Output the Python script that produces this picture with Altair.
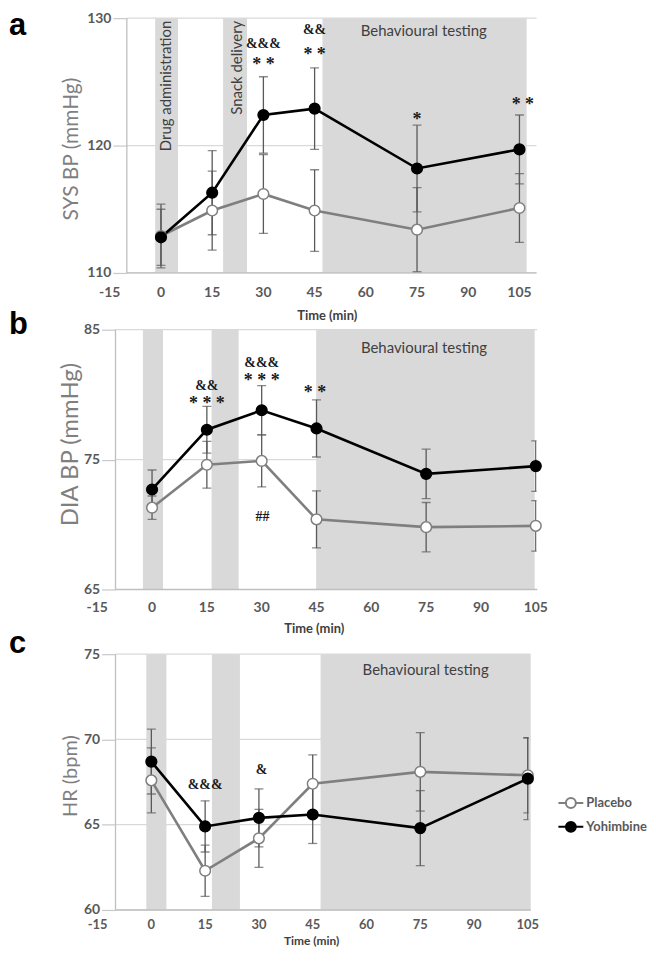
import altair as alt
import pandas as pd

# ---------------- data ----------------
TIME = [0, 15, 30, 45, 75, 105]
SERIES = ["Placebo", "Yohimbine"]

SYS_PLACEBO = [112.9, 114.9, 116.2, 114.9, 113.4, 115.1]
SYS_PLACEBO_ERR = [2.5, 3.1, 3.1, 3.2, 3.3, 2.7]
SYS_YOHIMBINE = [112.8, 116.3, 122.4, 122.9, 118.2, 119.7]
SYS_YOHIMBINE_ERR = [2.2, 3.3, 3.0, 3.2, 3.4, 2.7]

DIA_PLACEBO = [71.3, 74.6, 74.9, 70.4, 69.8, 69.9]
DIA_PLACEBO_ERR = [0.9, 1.8, 2.0, 2.2, 1.9, 1.95]
DIA_YOHIMBINE = [72.7, 77.3, 78.8, 77.4, 73.9, 74.5]
DIA_YOHIMBINE_ERR = [1.5, 1.8, 1.9, 2.2, 1.9, 1.95]

HR_PLACEBO = [67.6, 62.3, 64.2, 67.4, 68.1, 67.9]
HR_PLACEBO_ERR = [1.9, 1.5, 1.7, 1.7, 2.3, 2.2]
HR_YOHIMBINE = [68.7, 64.9, 65.4, 65.6, 64.8, 67.7]
HR_YOHIMBINE_ERR = [1.9, 1.5, 1.7, 1.7, 2.2, 2.4]

X_TICKS = [-15, 0, 15, 30, 45, 60, 75, 90, 105]
SYS_TICKS = [110, 120, 130]
DIA_TICKS = [65, 75, 85]
HR_TICKS = [60, 65, 70, 75]

# shaded study periods (minutes)
SYS_BAND_START = [-1.7, 18.2, 47.3]
SYS_BAND_END = [5.0, 25.2, 107.1]
DIA_BAND_START = [-2.5, 16.3, 44.9]
DIA_BAND_END = [3.0, 23.7, 104.7]
HR_BAND_START = [-1.4, 16.9, 47.2]
HR_BAND_END = [4.2, 24.7, 105.8]

# vertical period labels (panel a only)
VERT_TEXT = ["Drug administration", "Snack delivery"]
VERT_T = [1.6, 22.2]
VERT_V = [129.8, 129.8]

BEHAV_TEXT = "Behavioural testing"
SYS_BEHAV = (77.0, 129.0)
DIA_BEHAV = (74.4, 83.6)
HR_BEHAV = (76.5, 74.1)

# significance marks
SYS_SIG_T = [30, 30, 45, 45, 75, 106]
SYS_SIG_V = [128.0, 126.3, 129.1, 127.1, 122.0, 123.2]
SYS_SIG_TEXT = ["&&&", "* *", "&&", "* *", "*", "* *"]

DIA_SIG_T = [15, 15, 30, 30, 44.6, 30.2]
DIA_SIG_V = [80.67, 79.3, 82.43, 81.05, 80.13, 70.55]
DIA_SIG_TEXT = ["&&", "* * *", "&&&", "* * *", "* *", "##"]

HR_SIG_T = [15, 30.7]
HR_SIG_V = [67.35, 68.2]
HR_SIG_TEXT = ["&&&", "&"]

# ---------------- style ----------------
FONT = "Lato"
GRID = "#d9d9d9"
AXIS = "#bfbfbf"
BAND = "#d9d9d9"
LABEL = "#595959"
ERR = "#595959"
PLA = "#7f7f7f"
SYMBOL = "M-1,0L-0.4,0M0.4,0L1,0M-0.4,0A0.4,0.4,0,1,1,0.4,0A0.4,0.4,0,1,1,-0.4,0Z"

stroke_scale = alt.Scale(domain=SERIES, range=[PLA, "#000000"])
fill_scale = alt.Scale(domain=SERIES, range=["#ffffff", "#000000"])


def panel(cfg):
    xs = alt.Scale(domain=cfg["xdom"], nice=False, zero=False)
    ys = alt.Scale(domain=cfg["ydom"], nice=False, zero=False)
    ticks = cfg["ticks"]
    ymin, ymax = min(ticks), max(ticks)
    x0 = -10
    xend = cfg["xend"]

    yaxis = alt.Axis(values=ticks, domain=False, grid=False, tickSize=14,
                     tickColor="#c8c8c8", tickWidth=1.2, labelFont=FONT,
                     labelFontSize=14, labelFontWeight="bold", labelColor=LABEL,
                     labelPadding=2, offset=cfg["offset"], title=cfg["title"],
                     titleFont=FONT, titleFontSize=cfg["tfs"], titleFontWeight="normal",
                     titleColor=PLA, titleX=cfg["titleX"], titleY=cfg["titleY"],
                     titleAngle=270, titleAlign="center", titleBaseline="alphabetic")

    def X(f):
        return alt.X(f, type="quantitative", scale=xs, axis=None)

    def Y(f):
        return alt.Y(f, type="quantitative", scale=ys, axis=yaxis)

    if cfg.get("legend"):
        leg = alt.Legend(orient="none", legendX=cfg["legendX"], legendY=cfg["legendY"],
                         title=None, symbolType=SYMBOL, symbolSize=625,
                         symbolStrokeWidth=2, labelFont=FONT, labelFontSize=13,
                         labelFontWeight="bold", labelColor=LABEL, labelOffset=2,
                         rowPadding=1, padding=0)
    else:
        leg = None

    # series table
    rows = []
    for s, vals, errs in [("Placebo", cfg["pla"], cfg["pla_err"]),
                          ("Yohimbine", cfg["yoh"], cfg["yoh_err"])]:
        for t, v, e in zip(TIME, vals, errs):
            rows.append({"t": t, "series": s, "v": v, "lo": v - e, "hi": v + e})
    df = pd.DataFrame(rows)
    caps = pd.concat([df[["t", "lo"]].rename(columns={"lo": "c"}),
                      df[["t", "hi"]].rename(columns={"hi": "c"})])

    grid_df = pd.DataFrame({"t0": [x0] * len(ticks), "t1": [xend] * len(ticks), "v": ticks})
    frame_df = pd.DataFrame({"t0": [x0, x0], "t1": [x0, xend],
                             "v0": [ymin, ymin], "v1": [ymax, ymin]})
    band_df = pd.DataFrame({"t0": cfg["bs"], "t1": cfg["be"],
                            "v0": [ymin] * len(cfg["bs"]), "v1": [ymax] * len(cfg["bs"])})

    grid = alt.Chart(grid_df).mark_rule(color=GRID, strokeWidth=1.2).encode(
        x=X("t0"), x2="t1", y=Y("v"))
    bands = alt.Chart(band_df).mark_rect(color=BAND).encode(
        x=X("t0"), x2="t1", y=Y("v0"), y2="v1")
    frame = alt.Chart(frame_df).mark_rule(color=AXIS, strokeWidth=1.3).encode(
        x=X("t0"), x2="t1", y=Y("v0"), y2="v1")

    layers = [grid, bands, frame]

    if cfg.get("vert"):
        vdf = pd.DataFrame({"t": VERT_T, "v": VERT_V, "text": VERT_TEXT})
        layers.append(alt.Chart(vdf).mark_text(
            angle=270, align="right", baseline="middle", font=FONT, fontSize=15,
            color="#404040").encode(x=X("t"), y=Y("v"), text="text:N"))

    bdf = pd.DataFrame({"t": [cfg["behav"][0]], "v": [cfg["behav"][1]], "text": [BEHAV_TEXT]})
    layers.append(alt.Chart(bdf).mark_text(
        align="center", baseline="middle", font=FONT, fontSize=15, color="#404040"
    ).encode(x=X("t"), y=Y("v"), text="text:N"))

    layers.append(alt.Chart(df).mark_rule(color=ERR, strokeWidth=1.3, clip=True).encode(
        x=X("t"), y=Y("lo"), y2="hi"))
    layers.append(alt.Chart(caps).mark_tick(orient="horizontal", color=ERR, size=9,
                                            thickness=1.3, clip=True).encode(
        x=X("t"), y=Y("c")))

    layers.append(alt.Chart(df).mark_line(strokeWidth=2.6).encode(
        x=X("t"), y=Y("v"),
        stroke=alt.Stroke("series:N", scale=stroke_scale, legend=leg)))

    layers.append(alt.Chart(df).mark_point(shape="circle", filled=True, size=115,
                                           strokeWidth=1.5, opacity=1).encode(
        x=X("t"), y=Y("v"),
        fill=alt.Fill("series:N", scale=fill_scale, legend=leg),
        stroke=alt.Stroke("series:N", scale=stroke_scale, legend=leg)))

    sig = pd.DataFrame({"t": cfg["sig_t"], "v": cfg["sig_v"], "text": cfg["sig_text"]})
    sig["fs"] = [18 if "*" in s else 14 for s in sig["text"]]
    layers.append(alt.Chart(sig).mark_text(
        align="center", baseline="middle", font="Liberation Serif", fontWeight="bold",
        color="#1a1a1a").encode(
        x=X("t"), y=Y("v"), text="text:N", size=alt.Size("fs:Q", scale=None, legend=None)))

    xt = pd.DataFrame({"t": X_TICKS, "v": [ymin] * len(X_TICKS),
                       "text": [str(t) for t in X_TICKS]})
    layers.append(alt.Chart(xt).mark_text(
        align="center", baseline="middle", dy=cfg["tickdy"], font=FONT,
        fontSize=cfg.get("tickfs", 14),
        fontWeight="bold", color=LABEL).encode(x=X("t"), y=Y("v"), text="text:N"))

    tl = pd.DataFrame({"t": [cfg["timeT"]], "v": [ymin], "text": ["Time (min)"]})
    layers.append(alt.Chart(tl).mark_text(
        align="center", baseline="middle", dy=cfg["timedy"], font=FONT,
        fontSize=cfg.get("timefs", 13),
        fontWeight="bold", color="#404040").encode(x=X("t"), y=Y("v"), text="text:N"))

    letter = pd.DataFrame({"text": [cfg["letter"]]})
    layers.append(alt.Chart(letter).mark_text(
        align="left", baseline="alphabetic", font="Liberation Sans", fontSize=31,
        fontWeight="bold", color="#000000").encode(
        x=alt.value(-107), y=alt.value(cfg["lettery"]), text="text:N"))

    return alt.layer(*layers).properties(width=cfg["width"], height=cfg["height"])


pa = panel(dict(
    xdom=[-13.32, 110.0], width=423, ydom=[110, 130], height=256, ticks=SYS_TICKS,
    xend=110.0, offset=-11.4, title="SYS BP (mmHg)", tfs=21, titleX=-50, titleY=131,
    pla=SYS_PLACEBO, pla_err=SYS_PLACEBO_ERR, yoh=SYS_YOHIMBINE, yoh_err=SYS_YOHIMBINE_ERR,
    bs=SYS_BAND_START, be=SYS_BAND_END, vert=True, behav=SYS_BEHAV,
    sig_t=SYS_SIG_T, sig_v=SYS_SIG_V, sig_text=SYS_SIG_TEXT,
    tickdy=20, timeT=48.7, timedy=43, letter="a", lettery=17))

pb = panel(dict(
    xdom=[-10.0, 105.2], width=423, ydom=[64.39, 85], height=269, ticks=DIA_TICKS,
    xend=105.4, offset=0, title="DIA BP (mmHg)", tfs=24, titleX=-38, titleY=115,
    pla=DIA_PLACEBO, pla_err=DIA_PLACEBO_ERR, yoh=DIA_YOHIMBINE, yoh_err=DIA_YOHIMBINE_ERR,
    bs=DIA_BAND_START, be=DIA_BAND_END, behav=DIA_BEHAV,
    sig_t=DIA_SIG_T, sig_v=DIA_SIG_V, sig_text=DIA_SIG_TEXT,
    tickdy=19, timeT=44.4, timedy=40, letter="b", lettery=4))

pc = panel(dict(
    xdom=[-10.0, 105.2], width=415, ydom=[60, 75], height=257, ticks=HR_TICKS,
    xend=105.8, offset=0, title="HR (bpm)", tfs=20, titleX=-39, titleY=122,
    pla=HR_PLACEBO, pla_err=HR_PLACEBO_ERR, yoh=HR_YOHIMBINE, yoh_err=HR_YOHIMBINE_ERR,
    bs=HR_BAND_START, be=HR_BAND_END, behav=HR_BEHAV,
    sig_t=HR_SIG_T, sig_v=HR_SIG_V, sig_text=HR_SIG_TEXT,
    tickdy=15, tickfs=13, timeT=44.7, timedy=31, timefs=12, letter="c", lettery=-1,
    legend=True, legendX=444, legendY=136))

chart = alt.vconcat(pa, pb, pc, spacing=57, bounds="flush").resolve_scale(
    x="independent", y="independent", stroke="independent", fill="independent"
).properties(
    padding={"left": 0, "top": -1, "right": 0, "bottom": 0}
).configure_view(stroke="transparent")

chart.save("out.html", embed_options={"renderer": "svg", "actions": False})
